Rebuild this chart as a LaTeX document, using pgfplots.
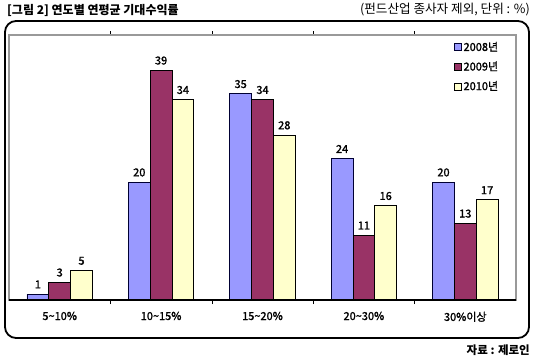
\documentclass[border=0pt]{standalone}
\usepackage{fontspec}
\setmainfont{Noto Sans CJK KR}
\newfontfamily\semib[FakeBold=1.5]{Noto Sans CJK KR}
\usepackage{pgfplots}
\pgfplotsset{compat=1.18}
\definecolor{c08}{HTML}{9999FF}
\definecolor{c09}{HTML}{993366}
\definecolor{c10}{HTML}{FFFFCC}
\definecolor{framegray}{HTML}{999999}
\begin{document}
\begin{tikzpicture}[x=1pt,y=1pt]
\path[use as bounding box] (0pt,0pt) rectangle (535pt,360pt);
\draw[line width=1.8pt, rounded corners=11pt] (5pt,22pt) rectangle (529pt,339pt);
\node[anchor=west, inner sep=0pt, font=\fontsize{12}{14}\selectfont\bfseries] at (7pt,350pt) {[그림 2] 연도별 연평균 기대수익률};
\node[anchor=east, inner sep=0pt, font=\fontsize{12.6}{14}\selectfont] at (530pt,350pt) {(펀드산업 종사자 제외, 단위 : \%)};
\node[anchor=east, inner sep=0pt, font=\fontsize{11.5}{13}\selectfont\bfseries] at (530pt,10pt) {자료 : 제로인};
\begin{axis}[
  at={(9pt,60pt)}, anchor=south west,
  width=507pt, height=265pt, scale only axis,
  xmin=-0.5, xmax=4.5, ymin=0, ymax=45,
  ybar=0pt, bar width=0.215,
  axis line style={framegray, line width=1.2pt},
  xtick={0,1,2,3,4},
  xticklabels={5\textasciitilde10\%, 10\textasciitilde15\%, 15\textasciitilde20\%, 20\textasciitilde30\%, 30\%이상},
  major x tick style={draw=none},
  minor xtick={0.5,1.5,2.5,3.5},
  minor tick length=4pt,
  tick align=outside,
  minor x tick style={black, line width=0.6pt},
  ytick=\empty,
  xticklabel style={font=\fontsize{11}{13}\selectfont\semib, yshift=-4pt},
  nodes near coords,
  nodes near coords style={font=\fontsize{11}{13}\selectfont\semib, yshift=2pt},
  /pgf/number format/assume math mode=true,
  legend style={at={(0.975,0.99)}, anchor=north east, draw=none, fill=none,
    font=\fontsize{11}{13}\selectfont\semib, row sep=5pt},
  legend cell align=left,
  legend image code/.code={\draw[#1, line width=0.5pt] (0pt,-3.5pt) rectangle (7pt,3.5pt);},
  after end axis/.code={\draw[black, line width=1.2pt] (rel axis cs:0,0) -- (rel axis cs:1,0);},
]
\addplot[fill=c08, draw=black!80!blue, line width=0.8pt, bar shift=-0.215] coordinates {(0,1) (1,20) (2,35) (3,24) (4,20)};
\addplot[fill=c09, draw=black, line width=0.8pt, bar shift=0] coordinates {(0,3) (1,39) (2,34) (3,11) (4,13)};
\addplot[fill=c10, draw=black, line width=0.8pt, bar shift=0.215] coordinates {(0,5) (1,34) (2,28) (3,16) (4,17)};
\legend{2008년, 2009년, 2010년}
\end{axis}
\end{tikzpicture}
\end{document}
